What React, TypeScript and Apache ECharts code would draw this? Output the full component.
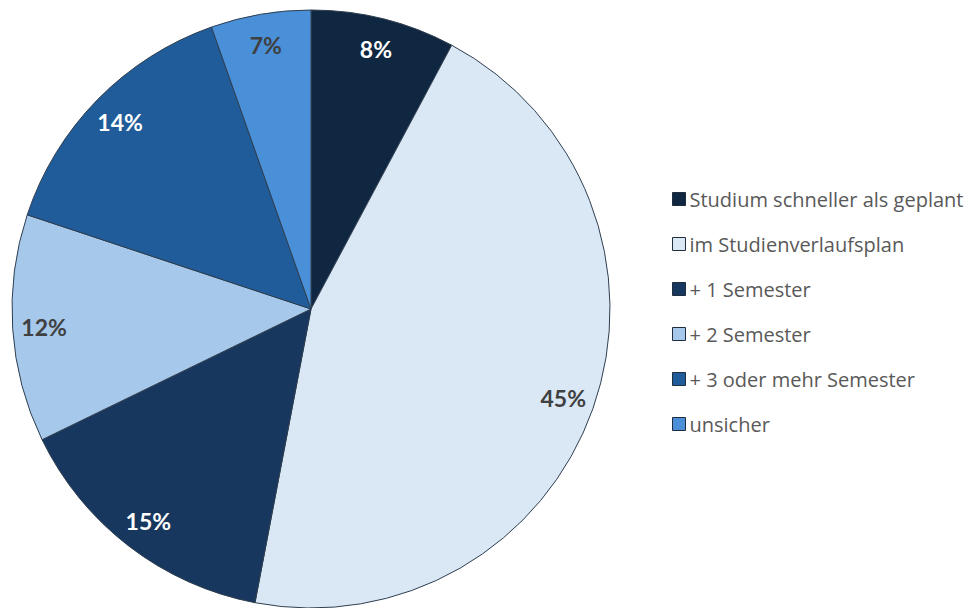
import React, { useEffect, useRef } from "react";
import * as echarts from "echarts";

const categories = [
  "Studium schneller als geplant",
  "im Studienverlaufsplan",
  "+ 1 Semester",
  "+ 2 Semester",
  "+ 3 oder mehr Semester",
  "unsicher",
];
// slice shares as drawn in the picture
const values = [7.8, 45.2, 14.8, 12.3, 14.5, 5.4];
// labels as printed on the slices
const labels = ["8%", "45%", "15%", "12%", "14%", "7%"];
const colors = ["#0F2741", "#DAE8F6", "#17375E", "#A6C8EB", "#1F5C99", "#4A90D9"];
const labelColors = ["#FFFFFF", "#404040", "#FFFFFF", "#404040", "#FFFFFF", "#404040"];

export default function App() {
  const ref = useRef<HTMLDivElement>(null);
  useEffect(() => {
    document.body.style.margin = "0";
    const chart = echarts.init(ref.current!, undefined, { renderer: "svg" });
    const data = categories.map((name, i) => ({
      name,
      value: values[i],
      itemStyle: { color: colors[i] },
    }));
    const labelData = categories.map((name, i) => ({
      name,
      value: values[i],
      itemStyle: { color: "rgba(0,0,0,0)", borderWidth: 0 },
      label: { formatter: labels[i], color: labelColors[i] },
    }));
    chart.setOption({
      animation: false,
      backgroundColor: "#FFFFFF",
      legend: {
        orient: "vertical",
        left: 667,
        top: 182,
        itemWidth: 13,
        itemHeight: 13,
        itemGap: 21,
        icon: "rect",
        data: categories,
        itemStyle: { borderColor: "#1F2D3D", borderWidth: 1 },
        textStyle: { fontFamily: "Open Sans", fontSize: 20, color: "#595959", padding: [0, 0, 0, -1], lineHeight: 24 },
        selectedMode: false,
      },
      series: [
        {
          type: "pie",
          center: [311, 309],
          radius: [0, 299],
          startAngle: 90,
          clockwise: true,
          data,
          label: { show: false },
          labelLine: { show: false },
          itemStyle: { borderColor: "#2F3E50", borderWidth: 1 },
          emphasis: { disabled: true },
        },
        {
          type: "pie",
          center: [311, 309],
          radius: [230, 299],
          startAngle: 90,
          clockwise: true,
          silent: true,
          data: labelData,
          label: {
            show: true,
            position: "inside",
            fontFamily: "Lato",
            fontWeight: "bold",
            fontSize: 23,
          },
          labelLine: { show: false },
          emphasis: { disabled: true },
        },
      ],
    });
    return () => chart.dispose();
  }, []);
  return <div ref={ref} style={{ position: "absolute", left: 0, top: 0, width: 978, height: 608 }} />;
}
